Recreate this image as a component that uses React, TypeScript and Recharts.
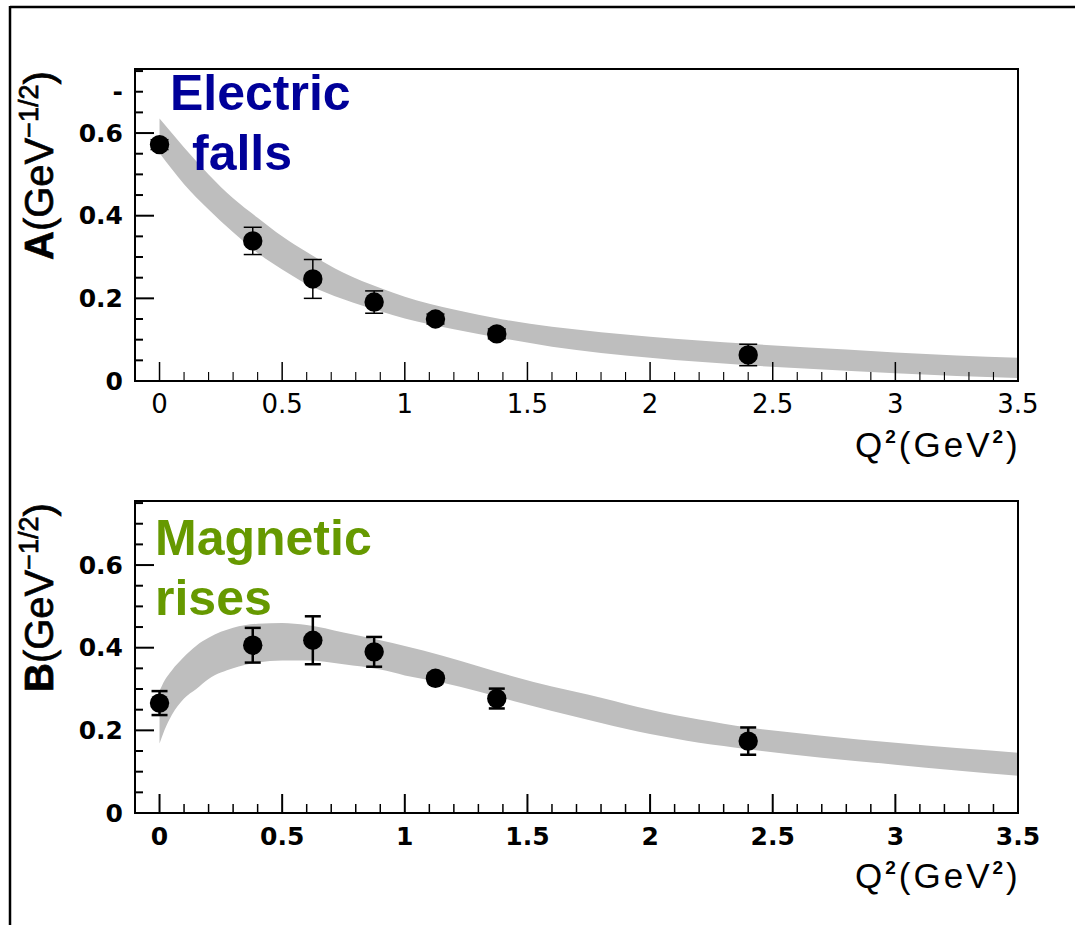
import React from 'react';
import { ComposedChart, Area, Scatter, XAxis, YAxis, ErrorBar, ReferenceArea } from 'recharts';

// ---- Electric (A) panel data ----
const bandQA = [0, 0.05, 0.1, 0.2, 0.3, 0.4, 0.5, 0.6, 0.75, 0.9, 1.0, 1.2, 1.4, 1.6, 1.8, 2.0, 2.4, 2.8, 3.0, 3.5];
const bandHiA = [0.635, 0.6, 0.565, 0.5, 0.442, 0.395, 0.35, 0.312, 0.262, 0.225, 0.204, 0.173, 0.149, 0.131, 0.118, 0.107, 0.09, 0.076, 0.069, 0.056];
const bandLoA = [0.552, 0.513, 0.476, 0.415, 0.36, 0.31, 0.27, 0.235, 0.198, 0.169, 0.151, 0.125, 0.103, 0.083, 0.068, 0.056, 0.038, 0.025, 0.019, 0.007];
const ptQ = [0, 0.38, 0.625, 0.875, 1.125, 1.375, 2.4];
const ptVA = [0.572, 0.339, 0.247, 0.191, 0.15, 0.114, 0.063];
const ptErrA = [0.012, 0.033, 0.047, 0.027, 0.012, 0.012, 0.026];

// ---- Magnetic (B) panel data ----
const bandQB = [0, 0.02, 0.05, 0.1, 0.15, 0.2, 0.3, 0.4, 0.5, 0.6, 0.75, 0.9, 1.0, 1.15, 1.3, 1.45, 1.6, 1.8, 1.9, 2.0, 2.1, 2.2, 2.3, 2.4, 2.7, 3.0, 3.25, 3.5];
const bandHiB = [0.295, 0.32, 0.345, 0.378, 0.405, 0.424, 0.448, 0.458, 0.46, 0.455, 0.437, 0.418, 0.404, 0.381, 0.355, 0.329, 0.306, 0.279, 0.264, 0.25, 0.237, 0.226, 0.216, 0.207, 0.187, 0.17, 0.157, 0.146];
const bandLoB = [0.168, 0.2, 0.237, 0.277, 0.3, 0.324, 0.35, 0.364, 0.369, 0.369, 0.36, 0.347, 0.333, 0.316, 0.294, 0.27, 0.247, 0.218, 0.204, 0.191, 0.18, 0.17, 0.162, 0.154, 0.134, 0.117, 0.103, 0.09];
const ptVB = [0.266, 0.406, 0.418, 0.39, 0.326, 0.277, 0.174];
const ptErrB = [0.029, 0.042, 0.058, 0.036, 0.012, 0.024, 0.033];

// ---- ticks ----
const xTicks = [0, 0.1, 0.2, 0.3, 0.4, 0.5, 0.6, 0.7, 0.8, 0.9, 1, 1.1, 1.2, 1.3, 1.4, 1.5, 1.6, 1.7, 1.8, 1.9, 2, 2.1, 2.2, 2.3, 2.4, 2.5, 2.6, 2.7, 2.8, 2.9, 3, 3.1, 3.2, 3.3, 3.4, 3.5];
const xMajorVals = [0, 0.5, 1, 1.5, 2, 2.5, 3, 3.5];
const xMajorLabels = ['0', '0.5', '1', '1.5', '2', '2.5', '3', '3.5'];
const yTicks = [0, 0.05, 0.1, 0.15, 0.2, 0.25, 0.3, 0.35, 0.4, 0.45, 0.5, 0.55, 0.6, 0.65, 0.7, 0.75];
const yMajorVals = [0.2, 0.4, 0.6];
const yLabelValsA = [0, 0.2, 0.4, 0.6, 0.7];
const yLabelTextsA = ['0', '0.2', '0.4', '0.6', '-'];
const yLabelValsB = [0, 0.2, 0.4, 0.6];
const yLabelTextsB = ['0', '0.2', '0.4', '0.6'];

const X_DOMAIN: [number, number] = [-0.1, 3.5];
const Y_DOMAIN: [number, number] = [0, 0.755];
const PLOT_LEFT = 135;
const PLOT_RIGHT = 1018;
const W = 1075;

const near = (a: number, b: number) => Math.abs(a - b) < 1e-6;

function Panel(props: any) {
  const { top, height, plotTopAbs, plotBottomAbs, bandQ, bandLo, bandHi, ptV, ptErr, yLabelVals, yLabelTexts, boldX, errWidth, errStroke, xTickStroke } = props;
  const plotTop = plotTopAbs - top;
  const plotBottom = plotBottomAbs - top;
  const bandData = bandQ.map((q: number, i: number) => ({ q, band: [bandLo[i], bandHi[i]] }));
  const pts = ptQ.map((q, i) => ({ q, v: ptV[i], err: ptErr[i] }));

  const yTick = (p: any) => {
    const v = p.payload.value;
    const y = p.y;
    const major = yMajorVals.some((m) => near(m, v));
    const li = yLabelVals.findIndex((m: number) => near(m, v));
    const len = major ? 19 : 8;
    return (
      <g>
        {!near(v, 0) && <line x1={PLOT_LEFT} x2={PLOT_LEFT + len} y1={y} y2={y} stroke="#000" strokeWidth={2} />}
        {li >= 0 && (
          <text x={123} y={y} textAnchor="end" dominantBaseline="central" fontFamily="DejaVu Sans" fontWeight="bold" fontSize={25} fill="#000">
            {yLabelTexts[li]}
          </text>
        )}
      </g>
    );
  };

  const xTick = (p: any) => {
    const v = p.payload.value;
    const x = p.x;
    const li = xMajorVals.findIndex((m) => near(m, v));
    const len = li >= 0 ? 19 : 9;
    return (
      <g>
        <line x1={x} x2={x} y1={plotBottom} y2={plotBottom - len} stroke="#000" strokeWidth={li >= 0 ? xTickStroke : xTickStroke * 0.75} />
        {li >= 0 && (
          <text x={x} y={plotBottom + 23} textAnchor="middle" dominantBaseline="central" fontFamily="DejaVu Sans" fontWeight={boldX ? 'bold' : 'normal'} fontSize={boldX ? 25 : 26} fill="#000">
            {xMajorLabels[li]}
          </text>
        )}
      </g>
    );
  };

  return (
    <div style={{ position: 'absolute', left: 0, top }}>
      <ComposedChart
        width={W}
        height={height}
        data={bandData}
        margin={{ top: plotTop, right: W - PLOT_RIGHT, left: PLOT_LEFT - 60, bottom: height - plotBottom - 30 }}
      >
        <XAxis type="number" dataKey="q" domain={X_DOMAIN} ticks={xTicks} interval={0} allowDataOverflow height={30} tickLine={false} axisLine={{ stroke: '#000', strokeWidth: 2 }} tick={xTick} />
        <YAxis type="number" domain={Y_DOMAIN} ticks={yTicks} interval={0} allowDataOverflow width={60} tickLine={false} axisLine={{ stroke: '#000', strokeWidth: 2 }} tick={yTick} />
        <Area type="monotone" dataKey="band" stroke="none" fill="#bebebe" fillOpacity={1} isAnimationActive={false} dot={false} activeDot={false} />
        <Scatter
          data={pts}
          dataKey="v"
          fill="#000"
          isAnimationActive={false}
          shape={(s: any) => <circle cx={s.cx} cy={s.cy} r={9.7} fill="#000" />}
        >
          <ErrorBar dataKey="err" direction="y" width={errWidth} stroke="#000" strokeWidth={errStroke} />
        </Scatter>
        <ReferenceArea x1={X_DOMAIN[0]} x2={X_DOMAIN[1]} y1={Y_DOMAIN[0]} y2={Y_DOMAIN[1]} fill="none" stroke="#000" strokeWidth={2} ifOverflow="visible" />
      </ComposedChart>
    </div>
  );
}

function QTitle({ y }: { y: number }) {
  return (
    <text x={855} y={y} fontFamily="Liberation Sans" fontSize={35} letterSpacing={3} fill="#000">
      Q<tspan fontSize={19} fontWeight="bold" dy={-14}>2</tspan>
      <tspan dy={14}>(GeV</tspan>
      <tspan fontSize={19} fontWeight="bold" dy={-14}>2</tspan>
      <tspan dy={14}>)</tspan>
    </text>
  );
}

function YTitle({ x, y, letter }: { x: number; y: number; letter: string }) {
  return (
    <text transform={`translate(${x},${y}) rotate(-90)`} fontFamily="Liberation Sans" fontSize={40} fill="#000" stroke="#000" strokeWidth={0.7}>
      <tspan fontWeight="bold">{letter}</tspan>(GeV<tspan fontSize={27} dy={-15}>−1/2</tspan>
      <tspan dy={15}>)</tspan>
    </text>
  );
}

export default function App() {
  return (
    <div style={{ position: 'absolute', left: 0, top: 0, width: 1075, height: 925, background: '#fff', overflow: 'hidden' }}>
      <Panel top={0} height={460} plotTopAbs={69} plotBottomAbs={381} bandQ={bandQA} bandLo={bandLoA} bandHi={bandHiA} ptV={ptVA} ptErr={ptErrA} yLabelVals={yLabelValsA} yLabelTexts={yLabelTextsA} boldX={false} errWidth={9} errStroke={1.5} xTickStroke={1.5} />
      <Panel top={430} height={495} plotTopAbs={501} plotBottomAbs={813} bandQ={bandQB} bandLo={bandLoB} bandHi={bandHiB} ptV={ptVB} ptErr={ptErrB} yLabelVals={yLabelValsB} yLabelTexts={yLabelTextsB} boldX={true} errWidth={8} errStroke={2.5} xTickStroke={2} />
      <svg width={1075} height={925} style={{ position: 'absolute', left: 0, top: 0, pointerEvents: 'none' }}>
        <line x1={10} y1={7} x2={1075} y2={7} stroke="#000" strokeWidth={2.5} />
        <line x1={10} y1={6} x2={10} y2={925} stroke="#000" strokeWidth={2.5} />
        <text x={170} y={110} fontFamily="Liberation Sans" fontWeight="bold" fontSize={50} fill="#000099">Electric</text>
        <text x={192} y={170} fontFamily="Liberation Sans" fontWeight="bold" fontSize={50} fill="#000099">falls</text>
        <text x={155} y={555} fontFamily="Liberation Sans" fontWeight="bold" fontSize={50} fill="#669900">Magnetic</text>
        <text x={155} y={615} fontFamily="Liberation Sans" fontWeight="bold" fontSize={50} fill="#669900">rises</text>
        <QTitle y={457} />
        <QTitle y={888} />
        <YTitle x={53} y={260} letter="A" />
        <YTitle x={53} y={692} letter="B" />
      </svg>
    </div>
  );
}
